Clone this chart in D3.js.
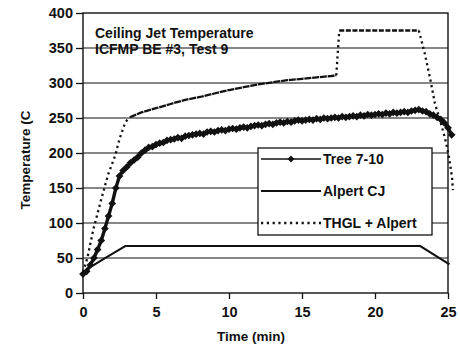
<!DOCTYPE html>
<html><head><meta charset="utf-8">
<script src="https://cdn.jsdelivr.net/npm/d3@7"></script>
<style>body{margin:0;background:#fff}svg{display:block}</style>
</head><body>
<svg id="c" width="460" height="348"></svg>
<script>
const xTicks = [0, 5, 10, 15, 20, 25];
const yTicks = [0, 50, 100, 150, 200, 250, 300, 350, 400];
const titleLines = ["Ceiling Jet Temperature", "ICFMP BE #3, Test 9"];
const xLabel = "Time (min)";
const yLabel = "Temperature (C";
const seriesNames = ["Tree 7-10", "Alpert CJ", "THGL + Alpert"];

const treeTime = [0,0.25,0.5,0.75,1,1.25,1.5,1.75,2,2.25,2.5,2.75,3,3.25,3.5,3.75,4,4.25,4.5,4.75,
 5,5.25,5.5,5.75,6,6.25,6.5,6.75,7,7.25,7.5,7.75,8,8.25,8.5,8.75,9,9.25,9.5,9.75,
 10,10.25,10.5,10.75,11,11.25,11.5,11.75,12,12.25,12.5,12.75,13,13.25,13.5,13.75,14,14.25,14.5,14.75,
 15,15.25,15.5,15.75,16,16.25,16.5,16.75,17,17.25,17.5,17.75,18,18.25,18.5,18.75,19,19.25,19.5,19.75,
 20,20.25,20.5,20.75,21,21.25,21.5,21.75,22,22.25,22.5,22.75,23,23.25,23.5,23.75,24,24.25,24.5,24.75,
 25,25.25];
const treeTemp = [27,31,40,50,62,75,92,110,128,150,167,175,180,186,190,194,200,204,208,209,
 212,214,215,218,219,220,222,221,224,225,226,227,228,227,230,231,230,232,233,232,
 234,235,234,236,237,236,238,239,240,239,241,242,241,243,244,243,245,244,246,247,
 246,247,248,247,249,248,250,249,250,251,250,252,251,252,253,252,254,253,255,254,
 255,256,255,257,256,258,257,258,259,258,260,261,262,260,259,256,254,251,248,243,
 236,226];

const alpertTime = [0, 0.5, 1.2, 2.0, 2.9, 23.1, 25.1];
const alpertTemp = [27, 37, 46, 56, 67, 67, 41];

const thglTime = [0, 0.3, 0.7, 1.2, 1.7, 2.2, 2.5, 2.9, 3.2, 4, 5, 6, 7, 8, 9, 10, 11, 12, 13, 14, 15, 16, 17, 17.35,
 17.55, 23.0, 23.4, 23.8, 24.1, 24.45, 24.8, 25.07, 25.27, 25.34];
const thglTemp = [30, 50, 90, 130, 168, 196, 220, 244, 251, 258, 264, 270, 276, 280, 285, 290, 294, 298, 301, 304, 306, 308, 310, 311,
 375, 375, 343, 304, 271, 247, 221, 194, 166, 147];

const svg = d3.select("#c");
const FONT = "'Liberation Sans', Arial, sans-serif";
const L = 83, T = 13, W = 365, H = 280;
const x = d3.scaleLinear().domain([0, 25]).range([L, L + W]);
const y = d3.scaleLinear().domain([0, 400]).range([T + H, T]);

// gridlines
svg.append("g").selectAll("line").data(yTicks.filter(v => v > 0 && v < 400)).join("line")
  .attr("x1", L).attr("x2", L + W).attr("y1", d => y(d)).attr("y2", d => y(d))
  .attr("stroke", "#111").attr("stroke-width", 1.2);

// axes
const yAxis = svg.append("g").attr("transform", `translate(${L},0)`)
  .call(d3.axisLeft(y).tickValues(yTicks).tickSize(7).tickPadding(3).tickFormat(d3.format("d")));
const xAxis = svg.append("g").attr("transform", `translate(0,${T + H})`)
  .call(d3.axisBottom(x).tickValues(xTicks).tickSize(6).tickPadding(8).tickFormat(d3.format("d")));
[yAxis, xAxis].forEach(a => {
  a.select(".domain").remove();
  a.selectAll("line").attr("stroke", "#111").attr("stroke-width", 1.3);
  a.selectAll("text").attr("font-family", FONT).attr("font-weight", "bold").attr("font-size", 14.5).attr("fill", "#111");
});

// frame
svg.append("rect").attr("x", L).attr("y", T).attr("width", W).attr("height", H)
  .attr("fill", "none").attr("stroke", "#111").attr("stroke-width", 1.4);

// series
const line = d3.line().x(d => x(d[0])).y(d => y(d[1]));
const treeData = treeTime.map((t, i) => [t, treeTemp[i]]);
const alpertData = alpertTime.map((t, i) => [t, alpertTemp[i]]);
const thglData = thglTime.map((t, i) => [t, thglTemp[i]]);

svg.append("path").datum(alpertData).attr("d", line)
  .attr("fill", "none").attr("stroke", "#111").attr("stroke-width", 2);

// THGL: dotted on steep parts, nearly solid dashes on the slow parts
const thglParts = [
  {from: 0, to: 8, dash: "2.2,3.4"},
  {from: 8, to: 23, dash: "7,0.8"},
  {from: 23, to: 24, dash: "2.2,3.4"},
  {from: 24, to: 25, dash: "5,1.6"},
  {from: 25, to: thglData.length - 1, dash: "2.2,3.4"}
];
thglParts.forEach(p => {
  svg.append("path").datum(thglData.slice(p.from, p.to + 1)).attr("d", line)
    .attr("fill", "none").attr("stroke", "#111").attr("stroke-width", 2.3)
    .attr("stroke-dasharray", p.dash);
});

svg.append("path").datum(treeData).attr("d", line)
  .attr("fill", "none").attr("stroke", "#111").attr("stroke-width", 3.4)
  .attr("stroke-linejoin", "round");
const diamond = d3.symbol(d3.symbolDiamond2).size(38);
svg.append("g").selectAll("path").data(treeData).join("path")
  .attr("transform", d => `translate(${x(d[0])},${y(d[1])})`)
  .attr("d", diamond).attr("fill", "#111");

// title
svg.append("g").selectAll("text").data(titleLines).join("text")
  .attr("x", 95).attr("y", (d, i) => 38 + i * 16)
  .attr("font-family", FONT).attr("font-weight", "bold").attr("font-size", 14)
  .attr("fill", "#111").text(d => d);

// legend
const lg = svg.append("g");
lg.append("rect").attr("x", 258).attr("y", 148).attr("width", 174).attr("height", 87)
  .attr("fill", "#fff").attr("stroke", "#111").attr("stroke-width", 1.3);
const ly = d3.scalePoint().domain(seriesNames).range([159, 223]);
const styles = [
  {w: 1.5, dash: null, marker: true},
  {w: 2, dash: null, marker: false},
  {w: 2.3, dash: "2.2,3.6", marker: false}
];
const legendDiamond = d3.symbol(d3.symbolDiamond2).size(30);
seriesNames.forEach((n, i) => {
  const yy = ly(n);
  lg.append("line").attr("x1", 261).attr("x2", 321).attr("y1", yy).attr("y2", yy)
    .attr("stroke", "#111").attr("stroke-width", styles[i].w)
    .attr("stroke-dasharray", styles[i].dash);
  if (styles[i].marker) lg.append("path").attr("transform", `translate(291,${yy})`).attr("d", legendDiamond).attr("fill", "#111");
  lg.append("text").attr("x", 323).attr("y", yy).attr("dy", "0.36em")
    .attr("font-family", FONT).attr("font-weight", "bold").attr("font-size", 14)
    .attr("fill", "#111").text(n);
});

// axis titles
svg.append("text").attr("x", 251).attr("y", 341).attr("text-anchor", "middle")
  .attr("font-family", FONT).attr("font-weight", "bold").attr("font-size", 13.5).attr("fill", "#111").text(xLabel);
svg.append("text").attr("transform", "translate(30,160) rotate(-90)").attr("text-anchor", "middle")
  .attr("font-family", FONT).attr("font-weight", "bold").attr("font-size", 13.5).attr("fill", "#111").text(yLabel);
</script>
</body></html>
